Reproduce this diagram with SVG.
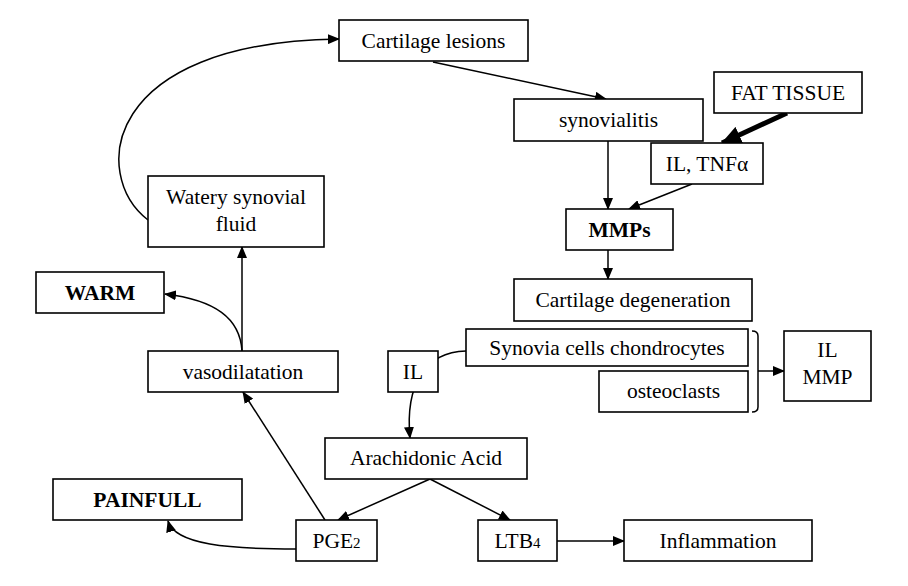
<svg xmlns="http://www.w3.org/2000/svg" width="908" height="586" viewBox="0 0 908 586">
<style>
.box{fill:#fff;stroke:#000;stroke-width:1.6}
text{font-family:'Liberation Serif','Tinos','Times New Roman','DejaVu Serif',serif;font-size:21.5px;fill:#000;text-anchor:middle}
.b{font-weight:bold}
.sub{font-size:15px}
.c{fill:none;stroke:#000;stroke-width:1.5}
</style>
<defs>
<marker id="ah" markerUnits="userSpaceOnUse" markerWidth="12" markerHeight="10" refX="11" refY="5" orient="auto">
<path d="M0,0 L12,5 L0,10 Z" fill="#000"/>
</marker>
<marker id="ahb" markerUnits="userSpaceOnUse" markerWidth="20" markerHeight="18" refX="19" refY="9" orient="auto">
<path d="M0,0 L20,9 L0,18 Z" fill="#000"/>
</marker>
</defs>
<rect width="908" height="586" fill="#fff"/>
<g id="connectors">
<path class="c" d="M148,220 C90,175 102,42 339,39" marker-end="url(#ah)"/>
<line class="c" x1="433" y1="62" x2="606" y2="99" marker-end="url(#ah)"/>
<line x1="787" y1="113" x2="722" y2="143" stroke="#000" stroke-width="5" marker-end="url(#ahb)"/>
<line class="c" x1="608" y1="141" x2="608" y2="209" marker-end="url(#ah)"/>
<line class="c" x1="692" y1="184" x2="629" y2="209" marker-end="url(#ah)"/>
<line class="c" x1="608" y1="250" x2="608" y2="279" marker-end="url(#ah)"/>
<line class="c" x1="242" y1="351" x2="242" y2="247" marker-end="url(#ah)"/>
<path class="c" d="M242,351 C240,318 215,300 165,294" marker-end="url(#ah)"/>
<line class="c" x1="325" y1="520" x2="243" y2="392" marker-end="url(#ah)"/>
<path class="c" d="M296,549 C230,549 175,545 168,521" marker-end="url(#ah)"/>
<path class="c" d="M466,351 C425,352 405,385 410,438" marker-end="url(#ah)"/>
<line class="c" x1="430" y1="479" x2="338" y2="520" marker-end="url(#ah)"/>
<line class="c" x1="430" y1="479" x2="510" y2="520" marker-end="url(#ah)"/>
<path class="c" d="M752,331 Q758,331 758,336 L758,407 Q758,412 752,412"/>
<line class="c" x1="758" y1="371" x2="784" y2="371" marker-end="url(#ah)"/>
<line class="c" x1="557" y1="541" x2="624" y2="541" marker-end="url(#ah)"/>
</g>
<g id="cartilage-lesions"><rect class="box" x="339" y="20" width="189" height="41"/><text x="433.5" y="48">Cartilage lesions</text></g>
<g id="synovialitis"><rect class="box" x="514" y="99" width="189" height="42"/><text x="608.5" y="127">synovialitis</text></g>
<g id="fat-tissue"><rect class="box" x="714" y="72" width="148" height="41"/><text x="788" y="100">FAT TISSUE</text></g>
<g id="il-tnf"><rect class="box" x="651" y="143" width="112" height="41"/><text x="707" y="171">IL, TNFα</text></g>
<g id="mmps"><rect class="box" x="566" y="209" width="107" height="41"/><text class="b" x="619.5" y="237">MMPs</text></g>
<g id="cartilage-degeneration"><rect class="box" x="514" y="279" width="238" height="42"/><text x="633" y="307">Cartilage degeneration</text></g>
<g id="watery"><rect class="box" x="148" y="176" width="176" height="71"/><text x="236" y="204">Watery synovial</text><text x="236" y="231">fluid</text></g>
<g id="warm"><rect class="box" x="36" y="272" width="128" height="41"/><text class="b" x="100" y="300">WARM</text></g>
<g id="vasodilatation"><rect class="box" x="148" y="351" width="190" height="41"/><text x="243" y="379">vasodilatation</text></g>
<g id="il"><rect class="box" x="388" y="351" width="50" height="41"/><text x="413" y="379">IL</text></g>
<g id="synovia-cells"><rect class="box" x="466" y="329" width="282" height="37"/><text x="607" y="355">Synovia cells chondrocytes</text></g>
<g id="osteoclasts"><rect class="box" x="599" y="371" width="149" height="41"/><text x="673.5" y="398">osteoclasts</text></g>
<g id="il-mmp"><rect class="box" x="784" y="331" width="87" height="70"/><text x="827.5" y="357">IL</text><text x="827.5" y="384">MMP</text></g>
<g id="arachidonic"><rect class="box" x="325" y="438" width="202" height="41"/><text x="426" y="465">Arachidonic Acid</text></g>
<g id="painfull"><rect class="box" x="53" y="479" width="189" height="41"/><text class="b" x="147.5" y="507">PAINFULL</text></g>
<g id="pge2"><rect class="box" x="296" y="520" width="81" height="41"/><text x="336.5" y="548">PGE<tspan class="sub">2</tspan></text></g>
<g id="ltb4"><rect class="box" x="478" y="520" width="79" height="41"/><text x="517.5" y="548">LTB<tspan class="sub">4</tspan></text></g>
<g id="inflammation"><rect class="box" x="624" y="520" width="188" height="41"/><text x="718" y="548">Inflammation</text></g>
</svg>
